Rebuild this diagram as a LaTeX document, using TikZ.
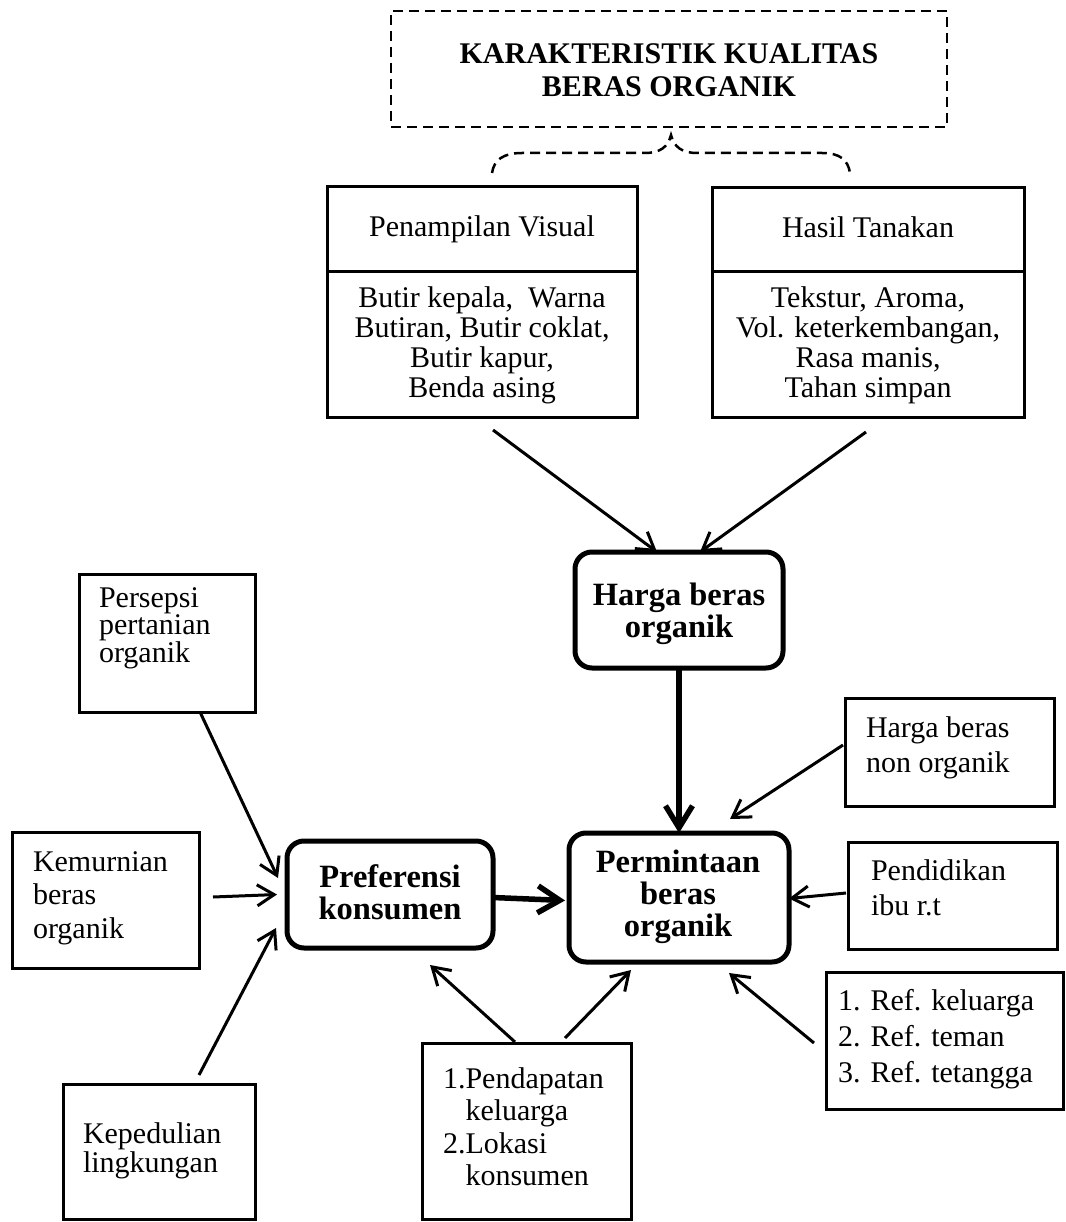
\documentclass[tikz,border=0pt]{standalone}
\usepackage{fontspec}
\setmainfont{Liberation Serif}
\usetikzlibrary{arrows.meta,fit}
\newcommand{\cText}[2]{\vtop{\baselineskip=#1\lineskiplimit=-1000pt\lineskip=0pt\halign{\hfil##\hfil\cr#2\crcr}}}
\newcommand{\lText}[2]{\vtop{\baselineskip=#1\lineskiplimit=-1000pt\lineskip=0pt\halign{##\hfil\cr#2\crcr}}}
\begin{document}
\begin{tikzpicture}[x=1pt,y=-1pt,
  box/.style={draw,line width=3pt,inner sep=0pt,outer sep=0pt},
  rbox/.style={draw,line width=5pt,rounded corners=17pt,inner sep=0pt,outer sep=0pt},
  dbox/.style={draw,line width=2.5pt,dash pattern=on 10pt off 6pt,inner sep=0pt,outer sep=0pt},
  dline/.style={line width=2.5pt,dash pattern=on 10pt off 6pt},
  reg/.style={inner sep=0pt,outer sep=0pt,font=\fontsize{30}{30}\selectfont},
  bld/.style={inner sep=0pt,outer sep=0pt,font=\fontsize{32.5}{30}\selectfont\bfseries},
  ttl/.style={inner sep=0pt,outer sep=0pt,font=\fontsize{30}{33}\selectfont\bfseries},
  arr/.style={line width=3pt,-{Straight Barb[length=17pt,width=21pt]}},
  tarr/.style={line width=5.5pt,-{Straight Barb[length=22pt,width=27pt]}},
]
\path[use as bounding box, fill=white] (0,0) rectangle (1065,1222);

% title
\node[dbox, fit={(391,11) (947,127)}] (title) {};
\node[ttl, anchor=base] (titletxt) at (669,64) {\cText{33pt}{KARAKTERISTIK KUALITAS\cr BERAS ORGANIK}};

% brace
\coordinate (bracetip) at (671,135);
\draw[dline] (492,173) .. controls (494,160) and (503,153) .. (522,153) -- (645,153)
  .. controls (660,153) and (668,147) .. (bracetip)
  .. controls (674,147) and (682,153) .. (697,153) -- (822,153)
  .. controls (840,153) and (848,160) .. (850,173);

% Penampilan Visual
\coordinate (divy) at (0,272);
\node[box, fit={(327,187) (637,417)}] (pv) {};
\draw[line width=3pt] (pv.west |- divy) -- (pv.east |- divy);
\node[reg, anchor=base] (pvhead) at (482,237) {Penampilan Visual};
\node[reg, anchor=base] (pvbody) at (482,307) {\cText{30pt}{Butir kepala,\ \ Warna\cr Butiran, Butir coklat,\cr Butir kapur,\cr Benda asing}};

% Hasil Tanakan
\node[box, fit={(712,188) (1024,417)}] (ht) {};
\draw[line width=3pt] (ht.west |- divy) -- (ht.east |- divy);
\node[reg, anchor=base] (hthead) at (868,238) {Hasil Tanakan};
\node[reg, anchor=base] (htbody) at (868,307) {\cText{30pt}{Tekstur, Aroma,\cr Vol. keterkembangan,\cr Rasa manis,\cr Tahan simpan}};

% Harga beras organik
\node[rbox, fit={(575,552) (783,668)}] (harga) {};
\node[bld, anchor=base] (hargatxt) at (679,605) {\cText{32pt}{Harga beras\cr organik}};

% Persepsi
\node[box, fit={(79,574) (255,712)}] (persepsi) {};
\node[reg, anchor=base west] (persepsitxt) at (99,607) {\lText{27.5pt}{Persepsi\cr pertanian\cr organik}};

% Harga beras non organik
\node[box, fit={(845,698) (1054,806)}] (nonorg) {};
\node[reg, anchor=base west] (nonorgtxt) at (866,737) {\lText{35pt}{Harga beras\cr non organik}};

% Kemurnian
\node[box, fit={(12,832) (199,968)}] (kemurnian) {};
\node[reg, anchor=base west] (kemurniantxt) at (33,871) {\lText{33.5pt}{Kemurnian\cr beras\cr organik}};

% Preferensi
\node[rbox, fit={(287,841) (493,948)}] (pref) {};
\node[bld, anchor=base] (preftxt) at (390,887) {\cText{32pt}{Preferensi\cr konsumen}};

% Permintaan
\node[rbox, fit={(569,833) (789,962)}] (perm) {};
\node[bld, anchor=base] (permtxt) at (678,872) {\cText{32pt}{Permintaan\cr beras\cr organik}};

% Pendidikan
\node[box, fit={(848,842) (1057,949)}] (pend) {};
\node[reg, anchor=base west] (pendtxt) at (871,880) {\lText{35pt}{Pendidikan\cr ibu r.t}};

% Kepedulian
\node[box, fit={(63,1084) (255,1219)}] (kepedulian) {};
\node[reg, anchor=base west] (kepeduliantxt) at (83,1143) {\lText{29pt}{Kepedulian\cr lingkungan}};

% Pendapatan
\node[box, fit={(422,1043) (631,1219)}] (pendap) {};
\node[reg, anchor=base west] (pendaptxt) at (443,1088) {\lText{32.5pt}{1.Pendapatan\cr\phantom{1.}keluarga\cr 2.Lokasi\cr\phantom{1.}konsumen}};

% Ref
\node[box, fit={(826,972) (1063,1109)}] (ref) {};
\node[reg, anchor=base west] (reftxt) at (838,1010) {\lText{36pt}{1. Ref. keluarga\cr 2. Ref. teman\cr 3. Ref. tetangga}};

% connectors
\draw[arr] ([xshift=11pt,yshift=-13pt]pv.south) -- ([xshift=-22pt]harga.north);
\draw[arr] ([xshift=-2pt,yshift=-15pt]ht.south) -- ([xshift=21pt]harga.north);
\draw[tarr] (harga.south) -- (perm.north);
\draw[arr] ([xshift=33pt]persepsi.south) -- ([xshift=-9pt,yshift=16.5pt]pref.west);
\draw[arr] ([xshift=14pt,yshift=3pt]kemurnian.east) -- ([xshift=-10pt]pref.west);
\draw[arr] ([xshift=40pt,yshift=9pt]kepedulian.north) -- ([xshift=-11pt,yshift=-33.5pt]pref.west);
\draw[tarr] ([yshift=-3pt]pref.east) -- ([xshift=-4pt,yshift=-3pt]perm.west);
\draw[arr] ([xshift=-2pt,yshift=7pt]nonorg.west) -- ([xshift=51pt,yshift=14pt]perm.north);
\draw[arr] ([xshift=-2pt,yshift=2.5pt]pend.west) -- ([yshift=-1pt]perm.east);
\draw[arr] ([xshift=-12pt,yshift=-2.5pt]ref.west) -- ([xshift=50pt,yshift=-11pt]perm.south);
\draw[arr] ([xshift=38.5pt,yshift=5pt]pendap.north) -- ([xshift=-48pt,yshift=-8pt]perm.south);
\draw[arr] ([xshift=-11.5pt,yshift=1pt]pendap.north) -- ([xshift=40pt,yshift=-17pt]pref.south);
\end{tikzpicture}
\end{document}
